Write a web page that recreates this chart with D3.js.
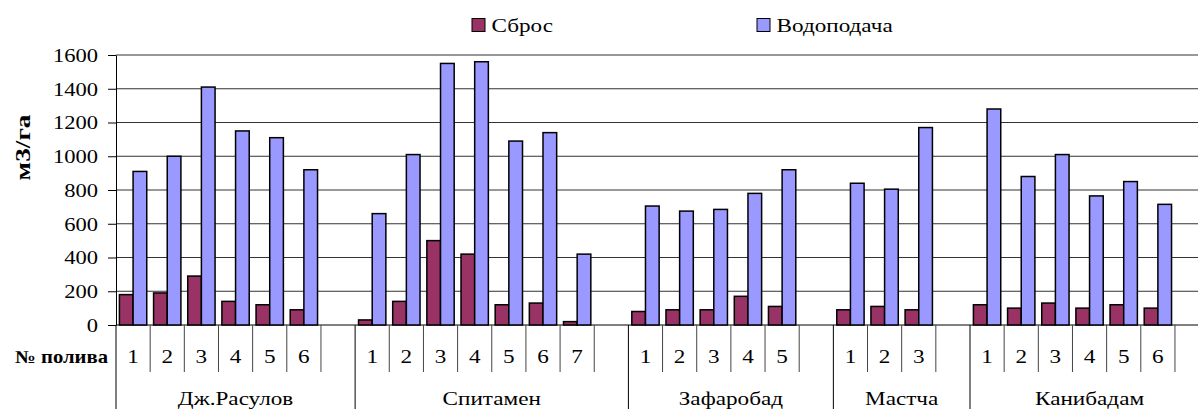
<!DOCTYPE html>
<html>
<head>
<meta charset="utf-8">
<script src="https://cdn.jsdelivr.net/npm/d3@7"></script>
<style>
  html, body { margin: 0; padding: 0; background: #fff; }
</style>
</head>
<body>
<div id="chart"></div>
<script>
// data
const groups = ["Дж.Расулов", "Спитамен", "Зафаробад", "Мастча", "Канибадам"]
const seriesNames = ["Сброс", "Водоподача"]
const sbros = [
    [180, 190, 290, 140, 120, 90],
    [30, 140, 500, 420, 120, 130, 20],
    [80, 90, 90, 170, 110],
    [90, 110, 90],
    [120, 100, 130, 100, 120, 100]
]
const vodopodacha = [
    [910, 1000, 1410, 1150, 1110, 920],
    [660, 1010, 1550, 1560, 1090, 1140, 420],
    [705, 675, 685, 780, 920],
    [840, 805, 1170],
    [1280, 880, 1010, 765, 850, 715]
]
const yTicks = [0, 200, 400, 600, 800, 1000, 1200, 1400, 1600]
const colors = {"Сброс": "#993366", "Водоподача": "#9999FF"}

// constants
const width = 1198
const height = 409
const plotLeft = 116
const slotWidth = 34.16
const zeroY = 325
const topY = 55
const stretch = 1.22 // the source picture is wider than tall
const serif = '"Liberation Serif"'

// one slot per irrigation plus an empty slot closing each group
const slots = []
groups.forEach((g, gi) => {
    sbros[gi].forEach((v, i) => slots.push({key: g + "|" + i, group: g, num: i + 1, first: i === 0,
        values: {"Сброс": v, "Водоподача": vodopodacha[gi][i]}}))
    slots.push({key: g + "|empty", group: g, num: null, first: false, values: null})
})

const svg = d3.select("#chart").append("svg")
              .attr("width", width)
              .attr("height", height)

// scales
const x = d3.scaleBand()
            .domain(slots.map(d => d.key))
            .range([plotLeft, plotLeft + slots.length * slotWidth])
            .padding(0)
const xInner = d3.scaleBand()
                 .domain(seriesNames)
                 .range([0, x.bandwidth()])
                 .paddingInner(0)
                 .paddingOuter(0.25)
const y = d3.scaleLinear()
            .domain([0, 1600])
            .range([zeroY, topY])

// gridlines
svg.append("g")
   .selectAll("line")
   .data(yTicks)
   .join("line")
   .attr("x1", plotLeft)
   .attr("x2", width)
   .attr("y1", d => y(d))
   .attr("y2", d => y(d))
   .attr("stroke", d => d === 0 ? "#000" : "#333")
   .attr("stroke-width", 1)

// y axis
const yAxis = svg.append("g")
                 .attr("transform", `translate(${plotLeft},0)`)
                 .call(d3.axisLeft(y).tickValues(yTicks).tickSize(8).tickSizeOuter(0).tickFormat(d3.format("d")))
yAxis.select(".domain").attr("stroke", "#000")
yAxis.selectAll(".tick line").attr("stroke", "#000")
yAxis.selectAll(".tick text")
     .attr("x", null)
     .attr("dy", "0.34em")
     .attr("transform", `translate(-18,0) scale(${stretch},1)`)
     .attr("fill", "#000")
     .style("font-family", serif)
     .style("font-size", "18.5px")

// y title
svg.append("text")
   .attr("transform", `translate(30,147.5) rotate(-90) scale(1.24,1)`)
   .attr("text-anchor", "middle")
   .style("font-family", serif)
   .style("font-size", "22px")
   .style("font-weight", "bold")
   .text("м3/га")

// bars
svg.append("g")
   .selectAll("g")
   .data(slots.filter(d => d.values))
   .join("g")
   .attr("transform", d => `translate(${x(d.key)},0)`)
   .selectAll("rect")
   .data(d => seriesNames.map(s => ({name: s, value: d.values[s]})))
   .join("rect")
   .attr("x", d => xInner(d.name))
   .attr("y", d => y(d.value))
   .attr("width", xInner.bandwidth())
   .attr("height", d => zeroY - y(d.value))
   .attr("fill", d => colors[d.name])
   .attr("stroke", "#000")
   .attr("stroke-width", 1.5)

// x axis: irrigation numbers
const xAxis = svg.append("g")
                 .attr("transform", `translate(0,${zeroY})`)
                 .call(d3.axisBottom(x).tickSize(0).tickFormat(k => {
                     const s = slots.find(d => d.key === k)
                     return s.num === null ? "" : s.num
                 }))
xAxis.select(".domain").remove()
xAxis.selectAll(".tick text")
     .attr("y", null)
     .attr("dy", null)
     .attr("transform", `translate(0,38) scale(${stretch},1)`)
     .attr("fill", "#000")
     .style("font-family", serif)
     .style("font-size", "19px")

// table lines below the axis
const boundaries = slots.map(d => ({x: x(d.key), long: d.first}))
boundaries.push({x: x.range()[1], long: false})
svg.append("g")
   .selectAll("line")
   .data(boundaries)
   .join("line")
   .attr("x1", d => d.x)
   .attr("x2", d => d.x)
   .attr("y1", zeroY)
   .attr("y2", d => d.long ? height : 372)
   .attr("stroke", d => d.long ? "#000" : "#444")
   .attr("stroke-width", 1)

// group labels
svg.append("g")
   .selectAll("text")
   .data(groups)
   .join("text")
   .attr("transform", g => {
       const keys = slots.filter(d => d.group === g).map(d => d.key)
       const cx = (x(keys[0]) + x(keys[keys.length - 1]) + x.bandwidth()) / 2
       return `translate(${cx},405) scale(${stretch},1)`
   })
   .attr("text-anchor", "middle")
   .style("font-family", serif)
   .style("font-size", "19px")
   .text(g => g)

svg.append("text")
   .attr("transform", `translate(108,363) scale(1.15,1)`)
   .attr("text-anchor", "end")
   .style("font-family", serif)
   .style("font-size", "18px")
   .style("font-weight", "bold")
   .text("№ полива")

// legend
const legendX = [472, 757]
const legend = svg.append("g")
                  .selectAll("g")
                  .data(seriesNames)
                  .join("g")
                  .attr("transform", (d, i) => `translate(${legendX[i]},18.5)`)
legend.append("rect")
      .attr("width", 13)
      .attr("height", 13)
      .attr("fill", d => colors[d])
      .attr("stroke", "#000")
      .attr("stroke-width", 1)
legend.append("text")
      .attr("transform", `translate(19.5,13) scale(${stretch},1)`)
      .style("font-family", serif)
      .style("font-size", "19px")
      .text(d => d)
</script>
</body>
</html>
